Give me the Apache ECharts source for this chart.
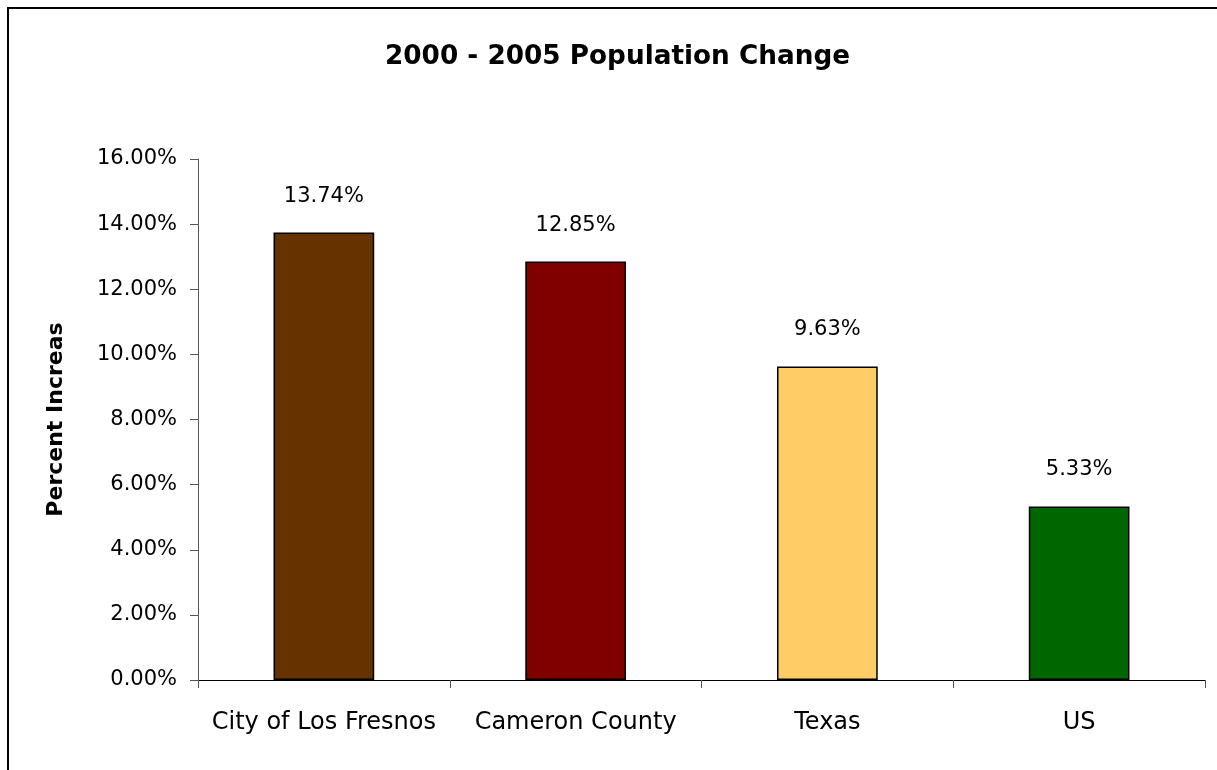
<!DOCTYPE html>
<html>
<head>
<meta charset="utf-8">
<title>2000 - 2005 Population Change</title>
<script src="https://cdn.jsdelivr.net/npm/echarts@6/dist/echarts.min.js"></script>
<style>
  html, body { margin: 0; padding: 0; background: #fff; }
  #chart { width: 1217px; height: 770px; }
</style>
</head>
<body>
<div id="chart"></div>
<script>
// Population growth 2000-2005, in percent
const categories = ['City of Los Fresnos', 'Cameron County', 'Texas', 'US'];
const growthPct = [13.74, 12.85, 9.63, 5.33];
const barColors = ['#663300', '#800000', '#FFCC66', '#006600'];
const yTicks = { min: 0, max: 16, interval: 2 };

const FONT = 'DejaVu Sans, Verdana, sans-serif';

const chart = echarts.init(document.getElementById('chart'), null, { renderer: 'canvas' });

chart.setOption({
  backgroundColor: '#ffffff',
  animation: false,
  graphic: [{
    // outer chart frame, running off the right and bottom of the page
    type: 'rect',
    shape: { x: 8, y: 8, width: 1400, height: 1000 },
    style: { fill: 'none', stroke: '#000', lineWidth: 2 },
    silent: true,
    z: -1
  }],
  title: {
    text: '2000 - 2005 Population Change',
    left: 380,
    top: 39,
    textStyle: { fontFamily: FONT, fontSize: 26.3, fontWeight: 'bold', color: '#000' }
  },
  grid: { left: 198, right: 12, top: 159, bottom: 90, containLabel: false },
  xAxis: {
    type: 'category',
    data: categories,
    axisLine: { lineStyle: { color: '#000', width: 1 } },
    axisTick: { show: true, length: 8, inside: false, lineStyle: { color: '#555' } },
    axisLabel: { fontFamily: FONT, fontSize: 24, color: '#000', margin: 31, interval: 0 }
  },
  yAxis: {
    type: 'value',
    min: yTicks.min,
    max: yTicks.max,
    interval: yTicks.interval,
    name: 'Percent Increase',
    nameLocation: 'middle',
    nameGap: 131,
    nameRotate: 90,
    // the axis title is cut short by the available height
    nameTruncate: { maxWidth: 200, ellipsis: '' },
    nameTextStyle: {
      fontFamily: FONT, fontSize: 22, fontWeight: 'bold', color: '#000'
    },
    axisLine: { show: true, lineStyle: { color: '#555', width: 1 } },
    axisTick: { show: true, length: 8, lineStyle: { color: '#555' } },
    splitLine: { show: false },
    axisLabel: {
      fontFamily: FONT, fontSize: 21, color: '#000', margin: 21,
      formatter: v => v.toFixed(2) + '%'
    }
  },
  series: [{
    type: 'bar',
    barWidth: '40%',
    data: growthPct.map((v, i) => ({
      value: v,
      itemStyle: { color: barColors[i], borderColor: '#000', borderWidth: 1.5 }
    })),
    label: {
      show: true,
      position: 'top',
      distance: 26,
      fontFamily: FONT,
      fontSize: 21,
      color: '#000',
      formatter: p => p.value.toFixed(2) + '%'
    }
  }]
});
</script>
</body>
</html>
